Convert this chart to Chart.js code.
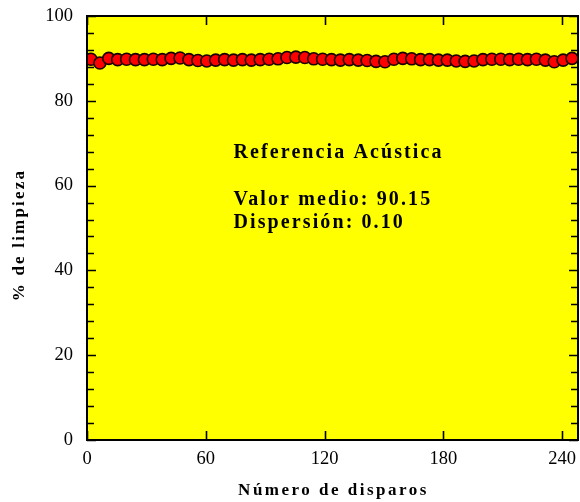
<!DOCTYPE html>
<html><head><meta charset="utf-8">
<script src="https://cdn.jsdelivr.net/npm/chart.js@4"></script>
<style>html,body{margin:0;padding:0;background:#fff}</style>
</head><body>
<canvas id="c" width="580" height="502"></canvas>
<script>
// ---- data ----
const shots = [2, 6.5, 11, 15.5, 20, 24.5, 29, 33.5, 38, 42.5, 47, 51.5, 56, 60.5, 65, 69.5, 74, 78.5, 83, 87.5,
  92, 96.5, 101, 105.5, 110, 114.5, 119, 123.5, 128, 132.5, 137, 141.5, 146, 150.5, 155, 159.5, 164, 168.5, 173, 177.5,
  182, 186.5, 191, 195.5, 200, 204.5, 209, 213.5, 218, 222.5, 227, 231.5, 236, 240.5, 245];
const cleaning = [89.8, 88.9, 90.0, 89.7, 89.8, 89.7, 89.7, 89.8, 89.7, 90.0, 90.1, 89.7, 89.5, 89.4, 89.6, 89.7, 89.6, 89.7, 89.6, 89.7,
  89.8, 89.9, 90.2, 90.3, 90.2, 89.9, 89.8, 89.7, 89.6, 89.7, 89.6, 89.5, 89.3, 89.2, 89.8, 90.0, 89.9, 89.7, 89.7, 89.6,
  89.6, 89.4, 89.3, 89.4, 89.7, 89.8, 89.8, 89.7, 89.8, 89.7, 89.8, 89.6, 89.2, 89.6, 90.0];
const xTicks = [0, 60, 120, 180, 240];
const yTicks = [0, 20, 40, 60, 80, 100];
const yMinorTicks = [0,4,8,12,16,20,24,28,32,36,40,44,48,52,56,60,64,68,72,76,80,84,88,92,96,100];
const xTitle = 'Número de disparos';
const yTitle = '% de limpieza';
const notes = ['Referencia Acústica', '', 'Valor medio: 90.15', 'Dispersión: 0.10'];
const noteAnchor = {x: 74, y: 66.5};

const SERIF = "'Liberation Serif', 'Times New Roman', serif";

const framePlugin = {
  id: 'frame',
  beforeDraw(chart) {
    const {ctx, chartArea: a} = chart;
    ctx.save();
    ctx.fillStyle = '#ffff00';
    ctx.fillRect(a.left, a.top, a.right - a.left, a.bottom - a.top);
    ctx.restore();
  },
  afterDatasetsDraw(chart) {
    const {ctx, chartArea: a, scales: {x, y}} = chart;
    ctx.save();
    ctx.strokeStyle = '#000';
    ctx.lineWidth = 1.6;
    ctx.beginPath();
    yMinorTicks.forEach(v => {
      const p = Math.round(y.getPixelForValue(v)) + 0.5;
      const len = yTicks.includes(v) ? 9 : 7;
      ctx.moveTo(a.left, p); ctx.lineTo(a.left + len, p);
      ctx.moveTo(a.right, p); ctx.lineTo(a.right - len, p);
    });
    xTicks.forEach(v => {
      const p = Math.round(x.getPixelForValue(v)) + 0.5;
      ctx.moveTo(p, a.bottom); ctx.lineTo(p, a.bottom - 9);
      ctx.moveTo(p, a.top); ctx.lineTo(p, a.top + 9);
    });
    ctx.stroke();
    ctx.lineWidth = 2;
    ctx.strokeRect(a.left, a.top, a.right - a.left, a.bottom - a.top);

    // annotation text
    ctx.fillStyle = '#000';
    ctx.font = 'bold 20px ' + SERIF;
    ctx.letterSpacing = '2.1px';
    ctx.textAlign = 'left';
    ctx.textBaseline = 'alphabetic';
    const nx = x.getPixelForValue(noteAnchor.x);
    const ny = y.getPixelForValue(noteAnchor.y);
    notes.forEach((t, i) => { if (t) ctx.fillText(t, nx, ny + i * 23.4); });

    // axis titles
    ctx.font = 'bold 17px ' + SERIF;
    ctx.letterSpacing = '2.5px';
    ctx.textAlign = 'center';
    ctx.textBaseline = 'middle';
    ctx.fillText(xTitle, (a.left + a.right) / 2 + 1, 491);
    ctx.letterSpacing = '2.2px';
    ctx.save();
    ctx.translate(20, (a.top + a.bottom) / 2 + 7);
    ctx.rotate(-Math.PI / 2);
    ctx.fillText(yTitle, 0, 0);
    ctx.restore();
    ctx.restore();
  }
};

const zeroPad = s => { s.paddingLeft = 0; s.paddingRight = 0; s.paddingTop = 0; s.paddingBottom = 0; };

new Chart(document.getElementById('c'), {
  type: 'scatter',
  data: {
    datasets: [{
      data: shots.map((s, i) => ({x: s, y: cleaning[i]})),
      backgroundColor: '#ff0000',
      borderColor: '#1a0000',
      borderWidth: 1.6,
      pointRadius: 6,
      pointHoverRadius: 6
    }]
  },
  options: {
    responsive: false,
    animation: false,
    devicePixelRatio: 1,
    layout: {autoPadding: false, padding: {top: 16, right: 2, left: 0, bottom: 0}},
    plugins: {legend: {display: false}, tooltip: {enabled: false}},
    scales: {
      x: {
        type: 'linear', min: 0, max: 248,
        afterBuildTicks: s => { s.ticks = xTicks.map(v => ({value: v})); },
        afterFit: s => { s.height = 62; zeroPad(s); },
        grid: {display: false, drawTicks: false},
        border: {display: false},
        ticks: {color: '#000', font: {family: SERIF, size: 18.5}, padding: 8, maxRotation: 0}
      },
      y: {
        type: 'linear', min: 0, max: 100,
        afterBuildTicks: s => { s.ticks = yTicks.map(v => ({value: v})); },
        afterFit: s => { s.width = 87; zeroPad(s); },
        grid: {display: false, drawTicks: false},
        border: {display: false},
        ticks: {color: '#000', font: {family: SERIF, size: 18.5}, padding: 14}
      }
    }
  },
  plugins: [framePlugin]
});
</script>
</body></html>
